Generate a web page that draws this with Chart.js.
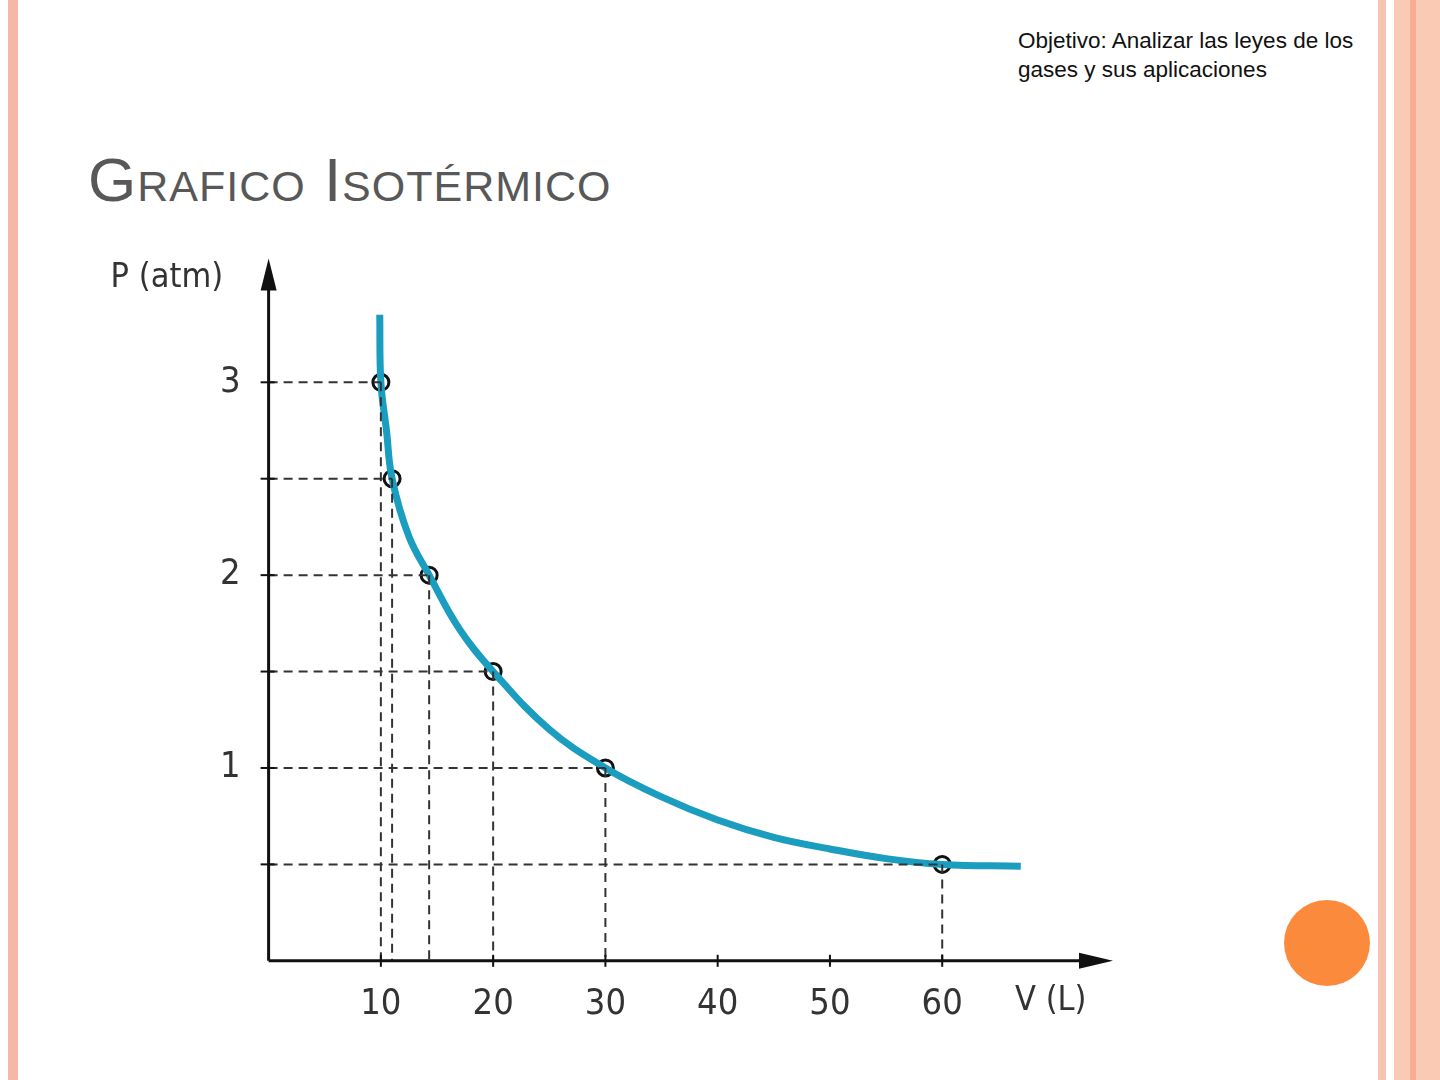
<!DOCTYPE html>
<html><head><meta charset="utf-8">
<script src="https://cdn.jsdelivr.net/npm/chart.js@4.4.0/dist/chart.umd.min.js"></script>
<style>
body{margin:0;width:1440px;height:1080px;background:#fff;position:relative;overflow:hidden;font-family:"Liberation Sans",Arial,sans-serif}
.lb{position:absolute;left:8px;top:0;width:10px;height:1080px;background:#f6b8a6}
.rb1{position:absolute;left:1378px;top:0;width:8px;height:1080px;background:#f8c3b0}
.rb2{position:absolute;left:1394px;top:0;width:46px;height:1080px;background:#fbcab5}
.rb3{position:absolute;left:1410px;top:0;width:6px;height:1080px;background:#f5ad96}
.obj{position:absolute;left:1018px;top:26px;font-size:22.5px;line-height:29px;color:#111}
h1{position:absolute;left:88px;top:144px;margin:0;font-weight:normal;font-size:62px;font-variant:small-caps;color:#585858;letter-spacing:1px}
.dot{position:absolute;left:1284px;top:900px;width:86px;height:86px;border-radius:50%;background:#fb8a3c}
#c{position:absolute;left:100px;top:225px}
</style></head><body>
<div class="lb"></div><div class="rb1"></div><div class="rb2"></div><div class="rb3"></div>
<div class="obj">Objetivo: Analizar las leyes de los<br>gases y sus aplicaciones</div>
<h1>Grafico Isotérmico</h1>
<div class="dot"></div>
<canvas id="c" width="1040" height="825"></canvas>
<script>
// measured points (V in L, P in atm)
const pointV = [10, 11, 14.3, 20, 30, 60];
const pointP = [3, 2.5, 2, 1.5, 1, 0.5];
// curve
const curveV = [9.9, 10, 10.5, 11, 12.5, 14.3, 17, 20, 25, 30, 35, 40, 45, 50, 55, 60, 67];
const curveP = [3.35, 3, 2.75, 2.5, 2.2, 2, 1.72, 1.5, 1.2, 1, 0.85, 0.73, 0.64, 0.58, 0.53, 0.5, 0.49];
const xTicks = [10, 20, 30, 40, 50, 60];
const yTicks = [1, 2, 3];

const guides = [];
pointV.forEach((v, i) => {
  guides.push({ data: [{x: 0, y: pointP[i]}, {x: v, y: pointP[i]}] });
  guides.push({ data: [{x: v, y: pointP[i]}, {x: v, y: 0}] });
});

const arrows = {
  id: 'arrows',
  afterDraw(chart) {
    const ctx = chart.ctx, a = chart.chartArea;
    const x0 = chart.scales.x.getPixelForValue(0), y0 = chart.scales.y.getPixelForValue(0);
    ctx.save();
    ctx.strokeStyle = '#111'; ctx.fillStyle = '#111'; ctx.lineWidth = 3;
    ctx.beginPath(); ctx.moveTo(x0, y0); ctx.lineTo(x0, a.top + 10); ctx.stroke();
    ctx.beginPath(); ctx.moveTo(x0, y0); ctx.lineTo(a.right - 10, y0); ctx.stroke();
    ctx.beginPath(); ctx.moveTo(x0, a.top - 8); ctx.lineTo(x0 - 8, a.top + 24); ctx.lineTo(x0 + 8, a.top + 24); ctx.fill();
    ctx.beginPath(); ctx.moveTo(a.right + 8, y0); ctx.lineTo(a.right - 26, y0 - 8); ctx.lineTo(a.right - 26, y0 + 8); ctx.fill();
    ctx.lineWidth = 2;
    xTicks.forEach(v => { const p = chart.scales.x.getPixelForValue(v); ctx.beginPath(); ctx.moveTo(p, y0 - 6); ctx.lineTo(p, y0 + 6); ctx.stroke(); });
    [0.5, 1, 1.5, 2, 2.5, 3].forEach(v => { const p = chart.scales.y.getPixelForValue(v); ctx.beginPath(); ctx.moveTo(x0 - 8, p); ctx.lineTo(x0 + 6, p); ctx.stroke(); });
    ctx.font = '34px "DejaVu Sans Condensed", "DejaVu Sans", sans-serif';
    ctx.fillStyle = '#333'; ctx.textAlign = 'left'; ctx.textBaseline = 'middle';
    ctx.fillText('P (atm)', x0 - 158, a.top + 12);
    ctx.fillText('V (L)', a.right - 90, y0 + 40);
    ctx.restore();
  }
};

new Chart(document.getElementById('c'), {
  type: 'scatter',
  data: {
    datasets: [
      ...guides.map(g => ({ data: g.data, showLine: true, borderColor: '#333', borderWidth: 2, borderDash: [9, 6], pointRadius: 0 })),
      { data: curveV.map((v, i) => ({x: v, y: curveP[i]})), showLine: true, tension: 0.4, borderColor: '#1a9dbf', borderWidth: 7, pointRadius: 0 },
      { data: pointV.map((v, i) => ({x: v, y: pointP[i]})), pointRadius: 8, pointBackgroundColor: '#fff', pointBorderColor: '#111', pointBorderWidth: 3 }
    ]
  },
  options: {
    responsive: false, animation: false,
    layout: { padding: { left: 100, right: 35, top: 15, bottom: 10 } },
    plugins: { legend: { display: false }, tooltip: { enabled: false } },
    scales: {
      x: { type: 'linear', min: 0, max: 74.5, border: { display: false }, grid: { display: false },
        afterBuildTicks: s => { s.ticks = xTicks.map(v => ({ value: v })); },
        ticks: { color: '#333', font: { size: 36, family: '"DejaVu Sans Condensed", "DejaVu Sans"' }, padding: 14 } },
      y: { min: 0, max: 3.6, border: { display: false }, grid: { display: false },
        afterBuildTicks: s => { s.ticks = yTicks.map(v => ({ value: v })); },
        ticks: { color: '#333', font: { size: 36, family: '"DejaVu Sans Condensed", "DejaVu Sans"' }, padding: 20 } }
    }
  },
  plugins: [arrows]
});
</script>
</body></html>
